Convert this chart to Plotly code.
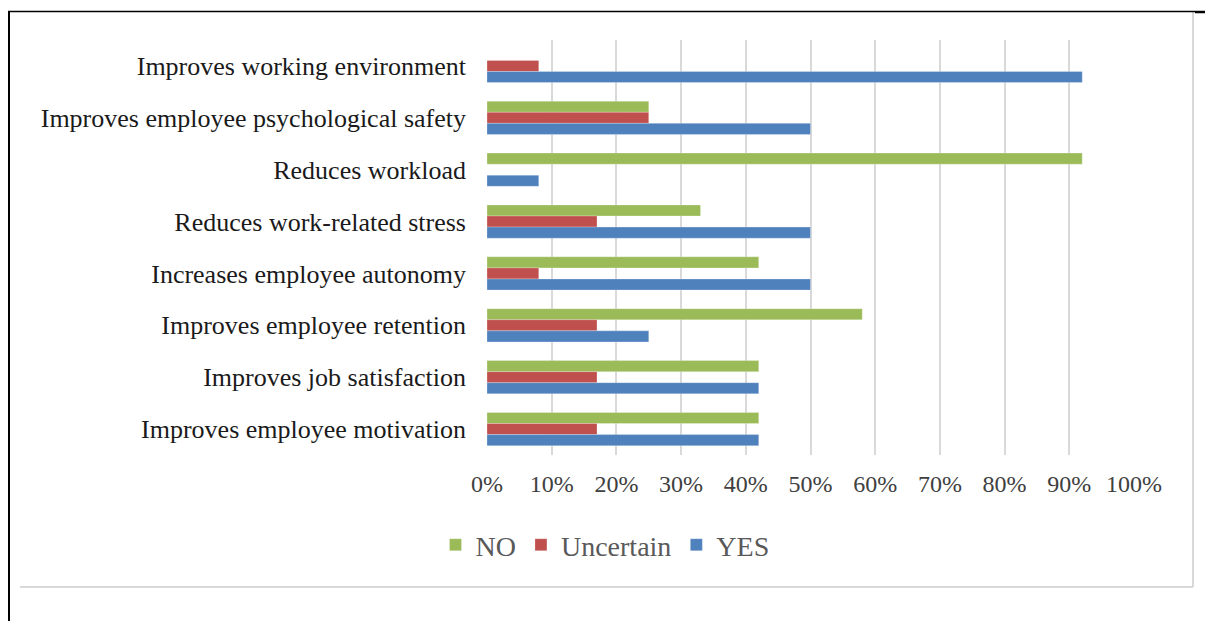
import plotly.graph_objects as go

W, H = 1205, 621

categories = [
    "Improves working environment",
    "Improves employee psychological safety",
    "Reduces workload",
    "Reduces work-related stress",
    "Increases employee autonomy",
    "Improves employee retention",
    "Improves job satisfaction",
    "Improves employee motivation",
]
no_vals = [0, 25, 92, 33, 42, 58, 42, 42]
uncertain_vals = [8, 25, 0, 17, 8, 17, 17, 17]
yes_vals = [92, 50, 8, 50, 50, 25, 42, 42]
tick_vals = [0, 10, 20, 30, 40, 50, 60, 70, 80, 90, 100]
tick_text = [f"{v}%" for v in tick_vals]

series = [
    ("NO", no_vals, "#9BBB59"),
    ("Uncertain", uncertain_vals, "#C0504D"),
    ("YES", yes_vals, "#4F81BD"),
]

fig = go.Figure()
for name, vals, color in series:
    fig.add_trace(go.Bar(
        y=categories, x=vals, name=name, orientation="h",
        marker=dict(color=color, line=dict(color="rgba(255,255,255,0.5)", width=0.5)),
    ))

def px(x):
    return x / W

def py(y):
    return 1 - y / H

FONT = "Liberation Serif"

fig.update_layout(
    width=W, height=H,
    margin=dict(l=0, r=0, t=0, b=0),
    paper_bgcolor="white", plot_bgcolor="white",
    barmode="group", bargap=0.36, bargroupgap=0,
    font=dict(family=FONT, size=24, color="#404040"),
    xaxis=dict(
        domain=[px(487), px(1134)], range=[0, 100],
        tickvals=tick_vals, ticktext=tick_text,
        showgrid=True, gridcolor="#D9D9D9", gridwidth=2,
        zeroline=False, showline=False, ticks="",
        ticklabelstandoff=12,
        tickfont=dict(family=FONT, size=24, color="#404040"),
        automargin=False,
    ),
    yaxis=dict(
        domain=[py(455), py(40)], autorange="reversed",
        showgrid=False, zeroline=False, showline=False, ticks="",
        ticklabelstandoff=20,
        tickfont=dict(family=FONT, size=26, color="#1a1a1a"),
        automargin=False,
    ),
    showlegend=True,
    legend=dict(
        orientation="h", x=px(605), y=py(545), xanchor="center", yanchor="middle",
        font=dict(family=FONT, size=28, color="#595959"),
        itemwidth=30, tracegroupgap=0,
    ),
    shapes=[
        # chart area border (light gray)
        dict(type="line", xref="paper", yref="paper", x0=px(20), x1=px(1193), y0=py(587), y1=py(587),
             line=dict(color="#D9D9D9", width=2)),
        dict(type="line", xref="paper", yref="paper", x0=px(1193), x1=px(1193), y0=py(12), y1=py(587),
             line=dict(color="#D9D9D9", width=2)),
        # outer black frame
        dict(type="line", xref="paper", yref="paper", x0=px(8), x1=px(1195), y0=py(11.5), y1=py(11.5),
             line=dict(color="black", width=1.5)),
        dict(type="line", xref="paper", yref="paper", x0=px(9), x1=px(9), y0=py(11), y1=py(621),
             line=dict(color="black", width=2)),
        dict(type="line", xref="paper", yref="paper", x0=px(1195), x1=px(1205), y0=py(12), y1=py(12),
             line=dict(color="black", width=2.5)),
    ],
)

fig.write_html("out.html")
